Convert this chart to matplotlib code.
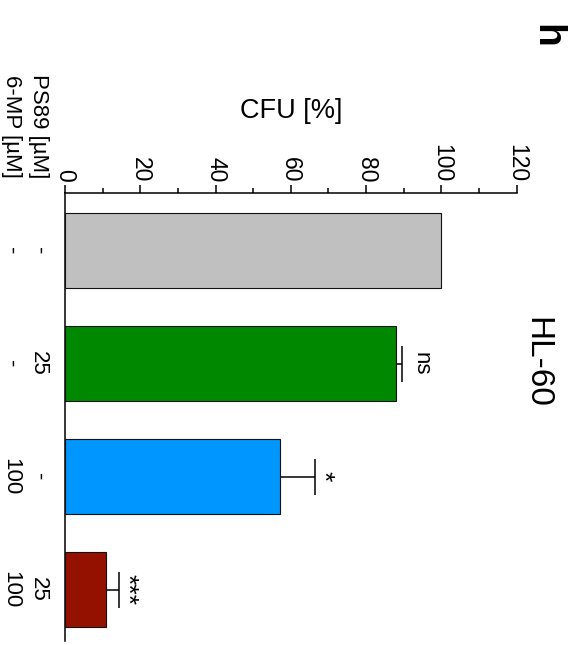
import matplotlib
matplotlib.use("Agg")
import matplotlib.pyplot as plt
import numpy as np

plt.rcParams['font.family'] = ['Liberation Sans', 'DejaVu Sans']

# ---- data ----
groups = ["Control", "PS89 25", "6-MP 100", "PS89 25 + 6-MP 100"]
cfu_mean = [100.0, 88.0, 57.0, 10.9]
cfu_err = [0.0, 1.6, 9.5, 3.5]
bar_colors = ["#C0C0C0", "#008800", "#0096FF", "#941100"]
ps89_labels = ["-", "25", "-", "25"]
mp6_labels = ["-", "-", "100", "100"]
significance = ["", "ns", "*", "***"]
value_ticks = [0, 20, 40, 60, 80, 100, 120]
value_label = "CFU [%]"
row_names = ["PS89 [µM]", "6-MP [µM]"]
title = "HL-60"
panel = "h"

W, H = 573, 645
fig = plt.figure(figsize=(W / 100, H / 100), dpi=100)


def fx(x):
    return x / W


def fy(y):
    return 1 - y / H


ax_left, ax_right, ax_top, ax_bot = 65, 516.7, 193, 641
ax = fig.add_axes([fx(ax_left), fy(ax_bot), fx(ax_right) - fx(ax_left), fy(ax_top) - fy(ax_bot)])

pos = np.arange(len(groups))
lw = 1.1
# error bars (drawn under bars so only upper half shows)
ax.errorbar(cfu_mean, pos, xerr=cfu_err, fmt='none', ecolor='black',
            elinewidth=lw, capsize=13.3, capthick=lw, zorder=2)
ax.barh(pos, cfu_mean, height=0.664, color=bar_colors, edgecolor='#111111',
        linewidth=0.8, zorder=3)

ax.set_xlim(0, 120)
ax.set_ylim(3.455, -0.509)

for s in ['right', 'bottom']:
    ax.spines[s].set_visible(False)
for s in ['top', 'left']:
    ax.spines[s].set_linewidth(lw)
ax.xaxis.tick_top()
ax.set_xticks(value_ticks)
ax.set_xticks(np.arange(10, 120, 20), minor=True)
ax.set_xticklabels([str(v) for v in value_ticks], rotation=-90, fontsize=16.5)
ax.tick_params(axis='x', which='major', length=5.8, width=lw, pad=2, direction='out')
ax.tick_params(axis='x', which='minor', length=3.6, width=lw, direction='out')
ax.set_yticks([])
ax.tick_params(axis='y', length=0)

# significance labels (offsets in pixels beyond the error bar tip)
sig_offset_px = [0, 13.3, 0.5, 0.5]
sig_size = [16, 16, 19, 19]
px_per_unit = (ax_right - ax_left) / 120.0
for i, s in enumerate(significance):
    if not s:
        continue
    xv = cfu_mean[i] + cfu_err[i] + sig_offset_px[i] / px_per_unit
    ax.text(xv, pos[i], s, rotation=-90, rotation_mode='anchor',
            ha='center', va='baseline', fontsize=sig_size[i], zorder=5)

# category labels below axis (rotated)
bar_center_px = [250.5, 363.5, 476.5, 589.5]
for i in range(len(groups)):
    fig.text(fx(38.5), fy(bar_center_px[i]), ps89_labels[i], rotation=-90,
             ha='center', va='center', fontsize=16)
    fig.text(fx(11), fy(bar_center_px[i]), mp6_labels[i], rotation=-90,
             ha='center', va='center', fontsize=16)

fig.text(fx(38.5), fy(178), row_names[0], rotation=-90, ha='center', va='bottom', fontsize=16)
fig.text(fx(11), fy(178), row_names[1], rotation=-90, ha='center', va='bottom', fontsize=16)

fig.text(fx(291), fy(111), value_label, ha='center', va='center', fontsize=19.5)
fig.text(fx(537), fy(362), title, rotation=-90, ha='center', va='center', fontsize=24)
fig.text(fx(546), fy(36), panel, rotation=-90, ha='center', va='center', fontsize=28,
         fontweight='bold')

fig.savefig("out.png", dpi=100)
